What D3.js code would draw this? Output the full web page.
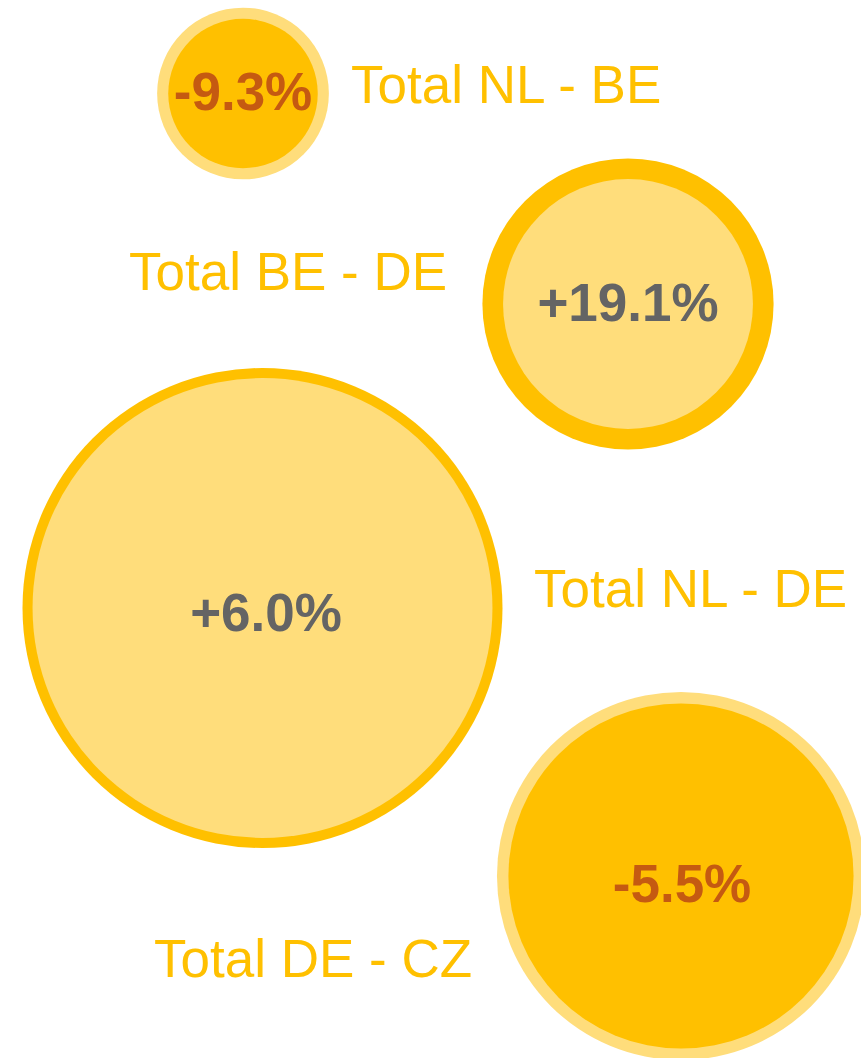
<!DOCTYPE html>
<html>
<head>
<meta charset="utf-8">
<script src="https://cdn.jsdelivr.net/npm/d3@7"></script>
<style>
  html, body { margin: 0; padding: 0; background: #ffffff; }
  svg { display: block; }
</style>
</head>
<body>
<div id="chart"></div>
<script>
// Route totals: bubble sizes for the previous and current period, and the change between them
const routes = ["Total NL - BE", "Total BE - DE", "Total NL - DE", "Total DE - CZ"];
const changePct = [-9.3, 19.1, 6.0, -5.5];
const sizePrevious = [12.8, 27.1, 91.8, 58.8];
const sizeCurrent = [9.7, 36.8, 100, 51.7];

// Placement of each bubble and its captions on the page
const layout = [
  { cx: 243,   cy: 93.5, pctDx: 0,   pctDy: 16, lx: 351, ly: 102.5, anchor: "start" },
  { cx: 628,   cy: 304,  pctDx: 0,   pctDy: 17, lx: 129, ly: 290,   anchor: "start" },
  { cx: 262.5, cy: 608,  pctDx: 3.5, pctDy: 23, lx: 534, ly: 607,   anchor: "start" },
  { cx: 681,   cy: 876,  pctDx: 1,   pctDy: 26, lx: 154, ly: 977,   anchor: "start" }
];

const W = 861, H = 1058;
const colCurrent = "#FFC000";
const colPrevious = "#FFDD7B";
const colLabel = "#FFC000";
const colUp = "#646464";
const colDown = "#C55A11";

const rows = routes.map((name, i) => ({
  name,
  change: changePct[i],
  prev: sizePrevious[i],
  curr: sizeCurrent[i],
  pos: layout[i]
}));

const r = d3.scaleSqrt()
  .domain([0, d3.max([...sizePrevious, ...sizeCurrent])])
  .range([0, 240]);

const svg = d3.select("#chart").append("svg")
  .attr("width", W)
  .attr("height", H)
  .attr("viewBox", `0 0 ${W} ${H}`);

const g = svg.selectAll("g.route")
  .data(rows)
  .join("g")
  .attr("class", "route")
  .attr("transform", d => `translate(${d.pos.cx},${d.pos.cy})`);

// Larger of the two periods goes underneath, the smaller one on top
g.each(function (d) {
  const discs = [
    { v: d.prev, fill: colPrevious },
    { v: d.curr, fill: colCurrent }
  ].sort((a, b) => b.v - a.v);
  d3.select(this).selectAll("circle")
    .data(discs)
    .join("circle")
    .attr("r", c => r(c.v))
    .attr("fill", c => c.fill);
});

// Signed percentage with a plain hyphen for negatives
const fmt = v => (v > 0 ? "+" : v < 0 ? "-" : "") + d3.format(".1f")(Math.abs(v)) + "%";

g.append("text")
  .attr("x", d => d.pos.pctDx)
  .attr("y", d => d.pos.pctDy)
  .attr("text-anchor", "middle")
  .attr("font-family", "'Liberation Sans', Arial, sans-serif")
  .attr("font-weight", "bold")
  .attr("font-size", 53)
  .attr("fill", d => d.change < 0 ? colDown : colUp)
  .text(d => fmt(d.change));

svg.selectAll("text.route-name")
  .data(rows)
  .join("text")
  .attr("class", "route-name")
  .attr("x", d => d.pos.lx)
  .attr("y", d => d.pos.ly)
  .attr("text-anchor", d => d.pos.anchor)
  .attr("font-family", "'Liberation Sans', Arial, sans-serif")
  .attr("font-size", 53)
  .attr("fill", colLabel)
  .text(d => d.name);
</script>
</body>
</html>
